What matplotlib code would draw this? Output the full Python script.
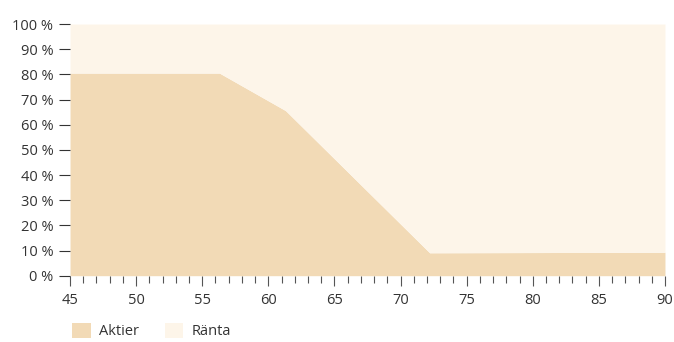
import matplotlib
matplotlib.use("Agg")
import matplotlib.pyplot as plt
from matplotlib.patches import Patch
from matplotlib.ticker import MultipleLocator, FuncFormatter

plt.rcParams['font.family'] = ['Open Sans', 'DejaVu Sans']

# data
ages = [45, 56.3, 61.3, 72.2, 90]
aktier = [80.5, 80.5, 65.6, 9.1, 9.3]
ranta_top = [100, 100, 100, 100, 100]
series_names = ["Aktier", "Ränta"]
colors = ["#F2DAB6", "#FDF5E9"]
text_color = "#333333"

fig = plt.figure(figsize=(6.74, 3.42), dpi=100)
ax = fig.add_axes([0.1039, 0.1939, 0.8827, 0.7359])

ax.fill_between(ages, 0, aktier, color=colors[0], lw=0)
ax.fill_between(ages, aktier, ranta_top, color=colors[1], lw=0)

ax.set_xlim(45, 90)
ax.set_ylim(0, 100)
for s in ax.spines.values():
    s.set_visible(False)

ax.xaxis.set_major_locator(MultipleLocator(5))
ax.xaxis.set_minor_locator(MultipleLocator(1))
ax.yaxis.set_major_locator(MultipleLocator(10))
ax.yaxis.set_major_formatter(FuncFormatter(lambda v, p: f"{v:.0f} %"))

ax.tick_params(axis="x", which="major", length=7.5, width=0.8, color="#555555",
               labelsize=10.5, labelcolor=text_color, pad=5)
ax.tick_params(axis="x", which="minor", length=5, width=0.8, color="#555555")
ax.tick_params(axis="y", length=8, width=0.8, color="#333333",
               labelsize=10.5, labelcolor=text_color, pad=4)

handles = [Patch(facecolor=c, edgecolor="none") for c in colors]
fig.legend(handles, series_names, loc="lower left", bbox_to_anchor=(0.088, -0.03),
           ncol=2, frameon=False, fontsize=10.5, handlelength=1.25, handleheight=1.25,
           handletextpad=0.55, columnspacing=1.8, labelcolor=text_color)

fig.savefig("out.png", dpi=100)
